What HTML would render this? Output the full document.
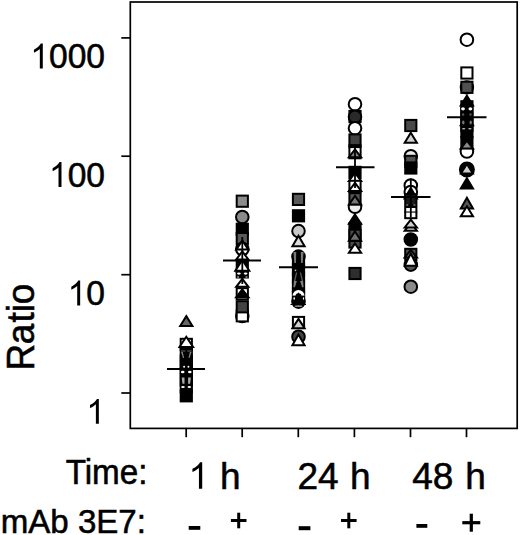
<!DOCTYPE html>
<html><head><meta charset="utf-8"><title>Ratio plot</title>
<style>
html,body{margin:0;padding:0;background:#fff;}
body{width:520px;height:535px;overflow:hidden;}
svg{display:block;font-family:'Liberation Sans', sans-serif;}
text{fill:#000;stroke:#000;stroke-width:0.55px;}
</style></head>
<body>
<svg width="520" height="535" viewBox="0 0 520 535">
<rect x='130.3' y='2.0' width='386.90' height='426.40' fill='none' stroke='#000' stroke-width='1.7'/>
<line x1='121.3' y1='37.9' x2='130.3' y2='37.9' stroke='#000' stroke-width='1.7'/>
<line x1='121.3' y1='156.2' x2='130.3' y2='156.2' stroke='#000' stroke-width='1.7'/>
<line x1='121.3' y1='274.7' x2='130.3' y2='274.7' stroke='#000' stroke-width='1.7'/>
<line x1='121.3' y1='393.0' x2='130.3' y2='393.0' stroke='#000' stroke-width='1.7'/>
<line x1='186.2' y1='428.4' x2='186.2' y2='437.2' stroke='#000' stroke-width='1.7'/>
<line x1='242.2' y1='428.4' x2='242.2' y2='437.2' stroke='#000' stroke-width='1.7'/>
<line x1='298.3' y1='428.4' x2='298.3' y2='437.2' stroke='#000' stroke-width='1.7'/>
<line x1='354.4' y1='428.4' x2='354.4' y2='437.2' stroke='#000' stroke-width='1.7'/>
<line x1='410.5' y1='428.4' x2='410.5' y2='437.2' stroke='#000' stroke-width='1.7'/>
<line x1='466.5' y1='428.4' x2='466.5' y2='437.2' stroke='#000' stroke-width='1.7'/>
<path transform='translate(30.27,68.40) scale(0.01641,-0.01690)' d='M763 0L583 0L583 1147C540 1106 483 1065 412 1023C342 981 279 950 223 929L223 1103C324 1150 412 1207 488 1274C563 1340 617 1405 648 1466L763 1466Z' fill='#000' stroke='#000' stroke-width='{0.55/k:.1f}'/>
<text transform='translate(48.96,68.40) scale(1,1.03)' font-size='33.6'>000</text>
<path transform='translate(48.96,186.90) scale(0.01641,-0.01690)' d='M763 0L583 0L583 1147C540 1106 483 1065 412 1023C342 981 279 950 223 929L223 1103C324 1150 412 1207 488 1274C563 1340 617 1405 648 1466L763 1466Z' fill='#000' stroke='#000' stroke-width='{0.55/k:.1f}'/>
<text transform='translate(67.64,186.90) scale(1,1.03)' font-size='33.6'>00</text>
<path transform='translate(67.64,305.40) scale(0.01641,-0.01690)' d='M763 0L583 0L583 1147C540 1106 483 1065 412 1023C342 981 279 950 223 929L223 1103C324 1150 412 1207 488 1274C563 1340 617 1405 648 1466L763 1466Z' fill='#000' stroke='#000' stroke-width='{0.55/k:.1f}'/>
<text transform='translate(86.32,305.40) scale(1,1.03)' font-size='33.6'>0</text>
<path transform='translate(86.32,423.70) scale(0.01641,-0.01690)' d='M763 0L583 0L583 1147C540 1106 483 1065 412 1023C342 981 279 950 223 929L223 1103C324 1150 412 1207 488 1274C563 1340 617 1405 648 1466L763 1466Z' fill='#000' stroke='#000' stroke-width='{0.55/k:.1f}'/>
<text x='-2.52 23.67 45.42 55.70 63.71' y='0' font-size='37' transform='translate(34.1,368) rotate(-90) scale(1,1.04)'>Ratio</text>
<text transform='translate(65.70,483.80) scale(1,1.04)' font-size='33.2'>Time:</text>
<path transform='translate(188.41,488.80) scale(0.01807,-0.01807)' d='M763 0L583 0L583 1147C540 1106 483 1065 412 1023C342 981 279 950 223 929L223 1103C324 1150 412 1207 488 1274C563 1340 617 1405 648 1466L763 1466Z' fill='#000' stroke='#000' stroke-width='{0.55/k:.1f}'/>
<text x='220.00' y='488.80' font-size='37'>h</text>
<text x='297.40' y='488.80' font-size='37'>24</text>
<text x='350.10' y='488.80' font-size='37'>h</text>
<text x='412.30' y='488.80' font-size='37'>48</text>
<text x='465.20' y='488.80' font-size='37'>h</text>
<text x='0.70' y='532.80' font-size='33.1'>mAb 3E7:</text>
<rect x='188.7' y='526.0' width='11.60' height='3.80' fill='#000'/>
<rect x='230.90' y='519.00' width='15.6' height='3.0' fill='#000'/><rect x='237.20' y='512.70' width='3.0' height='15.6' fill='#000'/>
<rect x='298.7' y='526.2' width='11.70' height='4.00' fill='#000'/>
<rect x='341.00' y='519.00' width='15.6' height='3.0' fill='#000'/><rect x='347.30' y='512.70' width='3.0' height='15.6' fill='#000'/>
<rect x='416.4' y='524.0' width='10.90' height='3.80' fill='#000'/>
<rect x='462.30' y='521.10' width='18.0' height='3.2' fill='#000'/><rect x='469.70' y='513.70' width='3.2' height='18.0' fill='#000'/>
<path d='M186.30 316.15L192.40 326.00L180.20 326.00Z' fill='#646464' stroke='#000' stroke-width='2.0' stroke-miterlimit='10'/>
<rect x='180.70' y='338.80' width='11.2' height='11.2' fill='#fff' stroke='#000' stroke-width='2.0'/>
<path d='M186.30 336.75L193.10 347.00L179.50 347.00Z' fill='#fff' stroke='#000' stroke-width='2.0' stroke-miterlimit='10'/>
<rect x='180.70' y='349.00' width='11.2' height='11.2' fill='#000' stroke='#000' stroke-width='2.0'/>
<rect x='180.70' y='355.40' width='11.2' height='11.2' fill='#000' stroke='#000' stroke-width='2.0'/>
<rect x='180.70' y='361.80' width='11.2' height='11.2' fill='#000' stroke='#000' stroke-width='2.0'/>
<rect x='180.70' y='368.20' width='11.2' height='11.2' fill='#000' stroke='#000' stroke-width='2.0'/>
<rect x='180.70' y='374.60' width='11.2' height='11.2' fill='#000' stroke='#000' stroke-width='2.0'/>
<rect x='180.70' y='381.00' width='11.2' height='11.2' fill='#000' stroke='#000' stroke-width='2.0'/>
<rect x='180.70' y='390.20' width='11.2' height='11.2' fill='#000' stroke='#000' stroke-width='2.0'/>
<rect x='181.00' y='350' width='10.60' height='2.00' fill='#333'/>
<polygon points='181.10,352.00 182.70,352.00 184.10,358.00 183.10,358.00' fill='#8a8a8a'/>
<polygon points='191.50,352.00 189.90,352.00 188.50,358.00 189.50,358.00' fill='#8a8a8a'/>
<ellipse cx='184.10' cy='366.8' rx='1.0' ry='1.0' fill='#fff'/>
<ellipse cx='188.40' cy='366.8' rx='1.0' ry='1.0' fill='#fff'/>
<ellipse cx='182.70' cy='372' rx='1.8' ry='1.2' fill='#fff'/>
<ellipse cx='189.80' cy='372' rx='1.8' ry='1.2' fill='#fff'/>
<polygon points='181.70,377.50 184.50,377.50 184.50,383.80 182.50,383.80' fill='#aaa'/>
<polygon points='190.90,377.50 188.10,377.50 188.10,383.80 190.10,383.80' fill='#aaa'/>
<ellipse cx='183.00' cy='387' rx='1.8' ry='1.0' fill='#fff'/>
<ellipse cx='189.30' cy='387' rx='1.8' ry='1.0' fill='#fff'/>
<rect x='236.70' y='195.60' width='11.2' height='11.2' fill='#8c8c8c' stroke='#000' stroke-width='2.0'/>
<circle cx='242.30' cy='217.00' r='6.3' fill='#8a8a8a' stroke='#000' stroke-width='2.0'/>
<rect x='236.70' y='223.70' width='11.2' height='11.2' fill='#000' stroke='#000' stroke-width='2.0'/>
<rect x='236.70' y='233.00' width='11.2' height='11.2' fill='#5a5a5a' stroke='#000' stroke-width='2.0'/>
<circle cx='242.30' cy='249.00' r='6.3' fill='#fff' stroke='#000' stroke-width='2.0'/>
<path d='M242.30 240.55L248.40 249.60L236.20 249.60Z' fill='#fff' stroke='#000' stroke-width='2.0' stroke-miterlimit='10'/>
<path d='M242.30 251.45L248.40 259.50L236.20 259.50Z' fill='#fff' stroke='#000' stroke-width='2.0' stroke-miterlimit='10'/>
<rect x='236.70' y='260.90' width='11.2' height='11.2' fill='#000' stroke='#000' stroke-width='2.0'/>
<path d='M242.30 259.95L249.30 270.80L235.30 270.80Z' fill='#fff' stroke='#000' stroke-width='2.0' stroke-miterlimit='10'/>
<rect x='235.70' y='271.5' width='13.20' height='7.00' fill='#000'/>
<ellipse cx='238.90' cy='273.6' rx='1.9' ry='1.1' fill='#fff'/>
<ellipse cx='245.60' cy='273.6' rx='1.9' ry='1.1' fill='#fff'/>
<ellipse cx='238.00' cy='277' rx='1.1' ry='1.1' fill='#888'/>
<ellipse cx='246.50' cy='277' rx='1.1' ry='1.1' fill='#888'/>
<circle cx='242.30' cy='316.00' r='6.3' fill='#fff' stroke='#000' stroke-width='2.0'/>
<rect x='236.70' y='310.20' width='11.2' height='11.2' fill='#fff' stroke='#000' stroke-width='2.0'/>
<rect x='236.70' y='288.20' width='11.2' height='11.2' fill='#fff' stroke='#000' stroke-width='2.0'/>
<path d='M242.30 278.95L248.40 286.80L236.20 286.80Z' fill='#fff' stroke='#000' stroke-width='2.0' stroke-miterlimit='10'/>
<path d='M242.30 289.45L248.40 297.20L236.20 297.20Z' fill='#000' stroke='#000' stroke-width='2.0' stroke-miterlimit='10'/>
<rect x='236.70' y='301.20' width='11.2' height='11.2' fill='#444' stroke='#000' stroke-width='2.0'/>
<rect x='292.90' y='193.80' width='11.2' height='11.2' fill='#5a5a5a' stroke='#000' stroke-width='2.0'/>
<rect x='292.90' y='210.20' width='11.2' height='11.2' fill='#000' stroke='#000' stroke-width='2.0'/>
<circle cx='298.50' cy='231.10' r='6.3' fill='#c8c8c8' stroke='#000' stroke-width='2.0'/>
<path d='M298.50 235.75L304.60 246.30L292.40 246.30Z' fill='#dcdcdc' stroke='#000' stroke-width='2.0' stroke-miterlimit='10'/>
<circle cx='298.50' cy='256.60' r='6.3' fill='#000' stroke='#000' stroke-width='2.0'/>
<rect x='292.90' y='256.40' width='11.2' height='11.2' fill='#000' stroke='#000' stroke-width='2.0'/>
<rect x='292.90' y='264.40' width='11.2' height='11.2' fill='#000' stroke='#000' stroke-width='2.0'/>
<rect x='292.90' y='272.40' width='11.2' height='11.2' fill='#000' stroke='#000' stroke-width='2.0'/>
<rect x='292.90' y='280.40' width='11.2' height='11.2' fill='#000' stroke='#000' stroke-width='2.0'/>
<rect x='292.90' y='287.40' width='11.2' height='11.2' fill='#000' stroke='#000' stroke-width='2.0'/>
<circle cx='298.50' cy='301.60' r='6.3' fill='#000' stroke='#000' stroke-width='2.0'/>
<rect x='292.90' y='291.90' width='11.2' height='11.2' fill='#000' stroke='#000' stroke-width='2.0'/>
<polygon points='293.50,252.00 296.20,252.00 296.00,263.00 294.30,263.00' fill='#7a7a7a'/>
<polygon points='303.50,252.00 300.80,252.00 301.00,263.00 302.70,263.00' fill='#7a7a7a'/>
<ellipse cx='295.50' cy='270.3' rx='0.9' ry='0.9' fill='#bbb'/>
<polygon points='295.90,272.50 297.30,272.50 295.30,281.00 293.90,281.00' fill='#5a5a5a'/>
<polygon points='301.10,272.50 299.70,272.50 301.70,281.00 303.10,281.00' fill='#5a5a5a'/>
<polygon points='293.90,281.00 296.90,281.00 294.90,287.30 293.40,287.30' fill='#808080'/>
<polygon points='303.10,281.00 300.10,281.00 302.10,287.30 303.60,287.30' fill='#808080'/>
<path d='M292.50 296.2A6.0 6.3 0 0 1 304.50 296.2Z' fill='#fff'/>
<path d='M295.50 296.4A3.0 3.2 0 0 1 301.50 296.4Z' fill='#000'/>
<path d='M298.50 292.2L300.30 296L296.70 296Z' fill='#000'/>
<rect x='292.00' y='295.6' width='13' height='1.3' fill='#000'/>
<ellipse cx='294.20' cy='298.5' rx='0.8' ry='1.2' fill='#fff'/>
<ellipse cx='303.50' cy='298.5' rx='0.6' ry='1.2' fill='#fff'/>
<rect x='290.50' y='304' width='15.50' height='1.00' fill='#000'/>
<ellipse cx='298.50' cy='306.2' rx='3.8' ry='0.9' fill='#888'/>
<rect x='292.90' y='316.90' width='11.2' height='11.2' fill='#fff' stroke='#000' stroke-width='2.0'/>
<path d='M298.50 318.85L304.60 328.30L292.40 328.30Z' fill='#d0d0d0' stroke='#000' stroke-width='2.0' stroke-miterlimit='10'/>
<circle cx='298.50' cy='336.70' r='6.3' fill='#444' stroke='#000' stroke-width='2.0'/>
<path d='M298.50 334.45L304.60 345.30L292.40 345.30Z' fill='#fff' stroke='#000' stroke-width='2.0' stroke-miterlimit='10'/>
<circle cx='355.00' cy='104.20' r='6.3' fill='#fff' stroke='#000' stroke-width='2.0'/>
<rect x='349.40' y='110.90' width='11.2' height='11.2' fill='#2a2a2a' stroke='#000' stroke-width='2.0'/>
<circle cx='355.00' cy='116.80' r='6.3' fill='#2a2a2a' stroke='#000' stroke-width='2.0'/>
<circle cx='355.00' cy='128.20' r='6.3' fill='#fff' stroke='#000' stroke-width='2.0'/>
<rect x='349.40' y='134.40' width='11.2' height='11.2' fill='#404040' stroke='#000' stroke-width='2.0'/>
<rect x='349.40' y='147.10' width='11.2' height='11.2' fill='#fff' stroke='#000' stroke-width='2.0'/>
<rect x='348.50' y='144.2' width='13.00' height='3.80' fill='#000'/>
<path d='M355.00 149.45L361.10 157.20L348.90 157.20Z' fill='#808080' stroke='#000' stroke-width='2.0' stroke-miterlimit='10'/>
<rect x='349.40' y='166.80' width='11.2' height='11.2' fill='#000' stroke='#000' stroke-width='2.0'/>
<path d='M355.00 172.95L361.10 181.00L348.90 181.00Z' fill='#fff' stroke='#000' stroke-width='2.0' stroke-miterlimit='10'/>
<rect x='349.40' y='180.80' width='11.2' height='11.2' fill='#fff' stroke='#000' stroke-width='2.0'/>
<path d='M355.00 182.95L361.10 191.00L348.90 191.00Z' fill='#fff' stroke='#000' stroke-width='2.0' stroke-miterlimit='10'/>
<circle cx='355.00' cy='206.80' r='6.3' fill='#eee' stroke='#000' stroke-width='2.0'/>
<rect x='349.40' y='193.20' width='11.2' height='11.2' fill='#555' stroke='#000' stroke-width='2.0'/>
<path d='M355.00 195.95L361.10 204.60L348.90 204.60Z' fill='#777' stroke='#000' stroke-width='2.0' stroke-miterlimit='10'/>
<path d='M355.00 214.45L361.10 223.80L348.90 223.80Z' fill='#000' stroke='#000' stroke-width='2.0' stroke-miterlimit='10'/>
<rect x='349.40' y='223.40' width='11.2' height='11.2' fill='#000' stroke='#000' stroke-width='2.0'/>
<rect x='349.40' y='236.40' width='11.2' height='11.2' fill='#4a4a4a' stroke='#000' stroke-width='2.0'/>
<rect x='349.40' y='229.70' width='11.2' height='11.2' fill='#4a4a4a' stroke='#000' stroke-width='2.0'/>
<path d='M355.00 231.45L361.10 240.80L348.90 240.80Z' fill='#707070' stroke='#000' stroke-width='2.0' stroke-miterlimit='10'/>
<path d='M355.00 243.45L361.10 252.80L348.90 252.80Z' fill='#fff' stroke='#000' stroke-width='2.0' stroke-miterlimit='10'/>
<rect x='349.40' y='267.90' width='11.2' height='11.2' fill='#2e2e2e' stroke='#000' stroke-width='2.0'/>
<rect x='405.20' y='119.90' width='11.2' height='11.2' fill='#4a4a4a' stroke='#000' stroke-width='2.0'/>
<path d='M410.80 132.75L416.90 142.80L404.70 142.80Z' fill='#d0d0d0' stroke='#000' stroke-width='2.0' stroke-miterlimit='10'/>
<circle cx='410.80' cy='156.20' r='6.3' fill='#e8e8e8' stroke='#000' stroke-width='2.0'/>
<rect x='405.20' y='155.80' width='11.2' height='11.2' fill='#505050' stroke='#000' stroke-width='2.0'/>
<rect x='405.20' y='162.40' width='11.2' height='11.2' fill='#000' stroke='#000' stroke-width='2.0'/>
<circle cx='410.80' cy='185.50' r='6.3' fill='#fff' stroke='#000' stroke-width='2.0'/>
<circle cx='410.80' cy='192.00' r='6.3' fill='#fff' stroke='#000' stroke-width='2.0'/>
<path d='M410.80 187.95L416.90 198.50L404.70 198.50Z' fill='#000' stroke='#000' stroke-width='2.0' stroke-miterlimit='10'/>
<rect x='405.20' y='207.00' width='11.2' height='11.2' fill='#fff' stroke='#000' stroke-width='2.0'/>
<rect x='405.20' y='194.20' width='11.2' height='11.2' fill='#1a1a1a' stroke='#000' stroke-width='2.0'/>
<ellipse cx='407.20' cy='205' rx='1.2' ry='0.9' fill='#666'/>
<ellipse cx='414.40' cy='205' rx='1.2' ry='0.9' fill='#666'/>
<rect x='404.30' y='211.5' width='13.00' height='1.10' fill='#000'/>
<path d='M410.80 222.45L416.90 230.80L404.70 230.80Z' fill='#d8d8d8' stroke='#000' stroke-width='2.0' stroke-miterlimit='10'/>
<path d='M410.80 219.55L416.90 227.40L404.70 227.40Z' fill='#cfcfcf' stroke='#000' stroke-width='2.0' stroke-miterlimit='10'/>
<circle cx='410.80' cy='239.50' r='6.3' fill='#000' stroke='#000' stroke-width='2.0'/>
<circle cx='410.80' cy='264.60' r='6.3' fill='#555' stroke='#000' stroke-width='2.0'/>
<rect x='405.20' y='248.80' width='11.2' height='11.2' fill='#555' stroke='#000' stroke-width='2.0'/>
<path d='M410.80 249.95L416.90 257.50L404.70 257.50Z' fill='#777' stroke='#000' stroke-width='2.0' stroke-miterlimit='10'/>
<path d='M410.80 253.45L416.90 265.80L404.70 265.80Z' fill='#fff' stroke='#000' stroke-width='2.0' stroke-miterlimit='10'/>
<circle cx='410.80' cy='286.70' r='6.3' fill='#8a8a8a' stroke='#000' stroke-width='2.0'/>
<circle cx='466.90' cy='39.70' r='6.3' fill='#fff' stroke='#000' stroke-width='2.0'/>
<rect x='461.30' y='67.40' width='11.2' height='11.2' fill='#fff' stroke='#000' stroke-width='2.0'/>
<circle cx='466.90' cy='87.40' r='6.2' fill='#505050' stroke='#000' stroke-width='2.0'/>
<rect x='461.30' y='81.70' width='11.2' height='11.2' fill='#505050' stroke='#000' stroke-width='2.0'/>
<path d='M466.90 95.75L473.00 105.50L460.80 105.50Z' fill='#000' stroke='#000' stroke-width='2.0' stroke-miterlimit='10'/>
<rect x='461.30' y='101.20' width='11.2' height='11.2' fill='#000' stroke='#000' stroke-width='2.0'/>
<rect x='461.30' y='107.40' width='11.2' height='11.2' fill='#000' stroke='#000' stroke-width='2.0'/>
<rect x='461.30' y='113.90' width='11.2' height='11.2' fill='#000' stroke='#000' stroke-width='2.0'/>
<path d='M466.90 115.95L473.00 125.20L460.80 125.20Z' fill='#000' stroke='#000' stroke-width='2.0' stroke-miterlimit='10'/>
<rect x='461.30' y='119.90' width='11.2' height='11.2' fill='#000' stroke='#000' stroke-width='2.0'/>
<rect x='461.30' y='126.00' width='11.2' height='11.2' fill='#000' stroke='#000' stroke-width='2.0'/>
<ellipse cx='463.00' cy='108.8' rx='1.9' ry='1.6' fill='#fff'/>
<ellipse cx='470.40' cy='108.8' rx='1.9' ry='1.6' fill='#fff'/>
<ellipse cx='463.10' cy='114.5' rx='1.2' ry='1.2' fill='#555'/>
<ellipse cx='470.50' cy='114.5' rx='1.2' ry='1.2' fill='#555'/>
<ellipse cx='463.30' cy='122.5' rx='1.2' ry='2.0' fill='#777'/>
<ellipse cx='470.70' cy='122.5' rx='1.2' ry='2.0' fill='#777'/>
<ellipse cx='463.70' cy='128.8' rx='1.7' ry='0.8' fill='#bbb'/>
<ellipse cx='469.90' cy='128.8' rx='1.7' ry='0.8' fill='#bbb'/>
<circle cx='466.90' cy='151.50' r='6.3' fill='#fff' stroke='#000' stroke-width='2.0'/>
<rect x='461.30' y='137.00' width='11.2' height='11.2' fill='#000' stroke='#000' stroke-width='2.0'/>
<path d='M466.90 140.55L473.00 148.60L460.80 148.60Z' fill='#8a8a8a' stroke='#000' stroke-width='2.0' stroke-miterlimit='10'/>
<circle cx='466.90' cy='169.50' r='7.0' fill='#000' stroke='#000' stroke-width='2.0'/>
<path d='M466.90 163.95L472.90 173.40L460.90 173.40Z' fill='#ccc' stroke='#000' stroke-width='2.0' stroke-miterlimit='10'/>
<path d='M466.90 178.25L473.00 188.40L460.80 188.40Z' fill='#000' stroke='#000' stroke-width='2.0' stroke-miterlimit='10'/>
<path d='M466.90 197.75L473.00 208.40L460.80 208.40Z' fill='#555' stroke='#000' stroke-width='2.0' stroke-miterlimit='10'/>
<path d='M466.90 206.35L473.00 216.30L460.80 216.30Z' fill='#fff' stroke='#000' stroke-width='2.0' stroke-miterlimit='10'/>
<line x1='186.3' y1='348' x2='186.3' y2='390' stroke='#000' stroke-width='1.8'/>
<line x1='242.3' y1='237' x2='242.3' y2='284' stroke='#000' stroke-width='1.8'/>
<line x1='298.5' y1='250' x2='298.5' y2='287.5' stroke='#000' stroke-width='1.8'/>
<line x1='355.0' y1='146' x2='355.0' y2='188' stroke='#000' stroke-width='1.8'/>
<line x1='410.8' y1='178.5' x2='410.8' y2='217.5' stroke='#000' stroke-width='1.8'/>
<line x1='466.9' y1='96' x2='466.9' y2='138' stroke='#000' stroke-width='1.8'/>
<line x1='167' y1='369.0' x2='205' y2='369.0' stroke='#000' stroke-width='2'/>
<line x1='223' y1='260.5' x2='261' y2='260.5' stroke='#000' stroke-width='2'/>
<line x1='279' y1='267.2' x2='318' y2='267.2' stroke='#000' stroke-width='2'/>
<line x1='336' y1='167.2' x2='374.5' y2='167.2' stroke='#000' stroke-width='2'/>
<line x1='391' y1='197.0' x2='430.5' y2='197.0' stroke='#000' stroke-width='2'/>
<line x1='447' y1='117.2' x2='486.5' y2='117.2' stroke='#000' stroke-width='2'/>
</svg>
</body></html>
